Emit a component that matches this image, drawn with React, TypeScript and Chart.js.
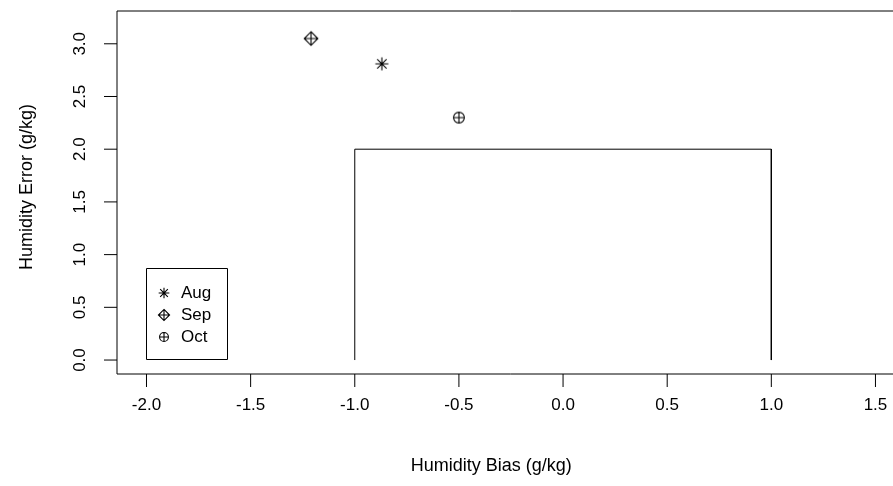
import React, { useEffect, useRef } from "react";
import { Chart, registerables } from "chart.js";

Chart.register(...registerables);

const seriesNames = ["Aug", "Sep", "Oct"];
const biasValues = [-0.87, -1.21, -0.5];
const errorValues = [2.81, 3.05, 2.3];
const markerKinds = ["asterisk", "diamondPlus", "circlePlus"];

const boxX = [-1, -1, 1, 1];
const boxY = [0, 2, 2, 0];

const xTicks = [-2.0, -1.5, -1.0, -0.5, 0.0, 0.5, 1.0, 1.5];
const yTicks = [0.0, 0.5, 1.0, 1.5, 2.0, 2.5, 3.0];

const xTitle = "Humidity Bias (g/kg)";
const yTitle = "Humidity Error (g/kg)";

const FONT = '"Liberation Sans", Arial, sans-serif';

function drawMarker(ctx: CanvasRenderingContext2D, kind: string, cx: number, cy: number, s: number) {
  ctx.save();
  ctx.strokeStyle = "#000";
  ctx.lineWidth = 1.1;
  ctx.beginPath();
  if (kind === "asterisk") {
    const a = 6.5 * s;
    const d = a * 0.72;
    ctx.moveTo(cx - a, cy); ctx.lineTo(cx + a, cy);
    ctx.moveTo(cx, cy - a); ctx.lineTo(cx, cy + a);
    ctx.moveTo(cx - d, cy - d); ctx.lineTo(cx + d, cy + d);
    ctx.moveTo(cx - d, cy + d); ctx.lineTo(cx + d, cy - d);
  } else if (kind === "diamondPlus") {
    const a = 6.8 * s;
    ctx.moveTo(cx, cy - a); ctx.lineTo(cx + a, cy); ctx.lineTo(cx, cy + a); ctx.lineTo(cx - a, cy); ctx.closePath();
    ctx.moveTo(cx - a, cy); ctx.lineTo(cx + a, cy);
    ctx.moveTo(cx, cy - a); ctx.lineTo(cx, cy + a);
  } else {
    const r = 5.4 * s;
    ctx.arc(cx, cy, r, 0, Math.PI * 2);
    ctx.moveTo(cx - r, cy); ctx.lineTo(cx + r, cy);
    ctx.moveTo(cx, cy - r); ctx.lineTo(cx, cy + r);
  }
  ctx.stroke();
  ctx.restore();
}

function markerCanvas(kind: string, s: number) {
  const c = document.createElement("canvas");
  c.width = 20; c.height = 20;
  const ctx = c.getContext("2d")!;
  drawMarker(ctx, kind, 10, 10, s);
  return c;
}

const framePlugin = {
  id: "rframe",
  afterDraw(chart: any) {
    const ctx: CanvasRenderingContext2D = chart.ctx;
    const { left, right, top, bottom } = chart.chartArea;
    const xs = chart.scales.x;
    const ys = chart.scales.y;
    ctx.save();
    ctx.strokeStyle = "#000";
    ctx.lineWidth = 1;
    ctx.beginPath();
    ctx.rect(left, top, right - left, bottom - top);
    ctx.stroke();

    ctx.fillStyle = "#000";
    ctx.font = `17px ${FONT}`;
    ctx.textAlign = "center";
    ctx.textBaseline = "middle";
    xTicks.forEach((v) => {
      const px = xs.getPixelForValue(v);
      ctx.beginPath();
      ctx.moveTo(px, bottom);
      ctx.lineTo(px, bottom + 13);
      ctx.stroke();
      ctx.fillText(v.toFixed(1), px, 405);
    });
    yTicks.forEach((v) => {
      const py = ys.getPixelForValue(v);
      ctx.beginPath();
      ctx.moveTo(left - 13, py);
      ctx.lineTo(left, py);
      ctx.stroke();
      ctx.save();
      ctx.translate(80, py);
      ctx.rotate(-Math.PI / 2);
      ctx.fillText(v.toFixed(1), 0, 0);
      ctx.restore();
    });
    ctx.font = `18px ${FONT}`;
    ctx.fillText(xTitle, xs.getPixelForValue(-0.345), 466);
    ctx.save();
    ctx.translate(27, 187);
    ctx.rotate(-Math.PI / 2);
    ctx.fillText(yTitle, 0, 0);
    ctx.restore();

    // legend
    const lx = 146, ly = 268, lw = 81, lh = 91;
    ctx.beginPath();
    ctx.rect(lx + 0.5, ly + 0.5, lw, lh);
    ctx.stroke();
    ctx.font = `17px ${FONT}`;
    ctx.textAlign = "left";
    const rowY = [293, 315, 337];
    chart.data.datasets.slice(1).forEach((ds: any, i: number) => {
      drawMarker(ctx, markerKinds[i], 164, rowY[i], 0.82);
      ctx.fillText(ds.label, 181, rowY[i]);
    });
    ctx.restore();
  },
};

export default function App() {
  const ref = useRef<HTMLCanvasElement | null>(null);
  useEffect(() => {
    if (!ref.current) return;
    const datasets: any[] = [
      {
        type: "line",
        label: "box",
        data: boxX.map((x, i) => ({ x, y: boxY[i] })),
        borderColor: "#000",
        borderWidth: 1,
        pointRadius: 0,
        fill: false,
        tension: 0,
      },
      ...seriesNames.map((name, i) => ({
        type: "scatter",
        label: name,
        data: [{ x: biasValues[i], y: errorValues[i] }],
        pointStyle: markerCanvas(markerKinds[i], 1),
        pointRadius: 10,
        borderColor: "#000",
        backgroundColor: "#000",
      })),
    ];
    const chart = new Chart(ref.current, {
      type: "scatter",
      data: { datasets },
      options: {
        responsive: false,
        animation: false,
        devicePixelRatio: 1,
        layout: { padding: { left: 0, top: 10, right: 16, bottom: 0 } },
        plugins: { legend: { display: false }, tooltip: { enabled: false } },
        scales: {
          x: {
            type: "linear",
            min: -2.1416,
            max: 1.637,
            grid: { display: false },
            border: { display: false },
            ticks: { display: false },
            afterBuildTicks: (s: any) => { s.ticks = xTicks.map((v) => ({ value: v })); },
            afterFit: (s: any) => { s.height = 112; },
          },
          y: {
            type: "linear",
            min: -0.1325,
            max: 3.311,
            grid: { display: false },
            border: { display: false },
            ticks: { display: false },
            afterBuildTicks: (s: any) => { s.ticks = yTicks.map((v) => ({ value: v })); },
            afterFit: (s: any) => { s.width = 117; },
          },
        },
      } as any,
      plugins: [framePlugin],
    });
    return () => chart.destroy();
  }, []);
  return (
    <div style={{ position: "absolute", left: 0, top: 0, width: 893, height: 486, overflow: "hidden", background: "#fff" }}>
      <canvas ref={ref} width={920} height={486} style={{ display: "block" }} />
    </div>
  );
}
